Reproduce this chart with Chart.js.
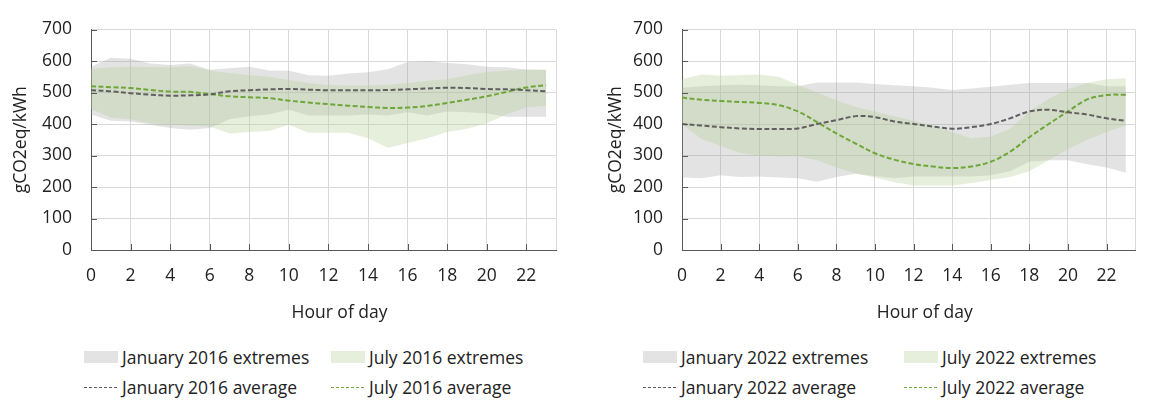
<!DOCTYPE html>
<html>
<head>
<meta charset="utf-8">
<script src="https://cdn.jsdelivr.net/npm/chart.js@4/dist/chart.umd.min.js"></script>
<style>
  html, body { margin: 0; padding: 0; background: #fff; width: 1151px; height: 403px; overflow: hidden; }
  .panel { position: absolute; top: 0; }
  canvas { display: block; }
  .legend { position: absolute; left: 0; top: 0; font-family: 'Open Sans', sans-serif; font-size: 17.5px; color: #222; }
  .item { position: absolute; display: flex; align-items: center; white-space: nowrap; height: 26px; }
  .swatch { width: 34px; height: 12px; margin-right: 4px; flex: none; }
  .mark { width: 34px; height: 1px; margin-right: 4px; flex: none; display: block; }
</style>
</head>
<body>
<div class="panel" style="left:0px;"><canvas id="c2016" width="575" height="340"></canvas></div>
<div class="panel" style="left:591px;"><canvas id="c2022" width="560" height="340"></canvas></div>
<div class="legend" id="leg2016"></div>
<div class="legend" id="leg2022"></div>

<script>
// Hour of day (categories)
const hours = [0, 1, 2, 3, 4, 5, 6, 7, 8, 9, 10, 11, 12, 13, 14, 15, 16, 17, 18, 19, 20, 21, 22, 23];

// Axis ticks
const xTickValues = [0, 2, 4, 6, 8, 10, 12, 14, 16, 18, 20, 22];
const xAxisEnd = 23.5;
const yTickStep = 100;
const yMax = 700;

// 2016 — carbon intensity, gCO2eq/kWh
const jan2016Avg = [507, 504, 498, 493, 490, 491, 494, 504, 507, 510, 511, 509, 507, 507, 507, 508, 510, 513, 515, 514, 511, 510, 507, 504];
const jan2016Max = [582, 610, 607, 592, 587, 592, 572, 577, 582, 570, 569, 555, 553, 560, 564, 574, 597, 600, 594, 590, 582, 580, 573, 572];
const jan2016Min = [430, 410, 408, 398, 387, 382, 387, 415, 425, 430, 445, 427, 427, 427, 430, 427, 437, 427, 440, 437, 433, 423, 423, 423];
const jul2016Avg = [520, 517, 514, 508, 503, 502, 495, 488, 485, 482, 474, 468, 463, 458, 454, 451, 452, 457, 467, 477, 488, 502, 516, 523];
const jul2016Max = [575, 580, 582, 581, 580, 583, 570, 562, 555, 550, 540, 530, 524, 522, 523, 524, 530, 537, 542, 555, 565, 570, 572, 572];
const jul2016Min = [448, 420, 415, 402, 398, 395, 392, 370, 375, 378, 398, 372, 372, 372, 355, 325, 340, 355, 375, 385, 402, 430, 452, 458];

// 2022 — carbon intensity, gCO2eq/kWh
const jan2022Avg = [400, 395, 390, 386, 384, 384, 386, 400, 412, 425, 422, 408, 400, 392, 385, 390, 400, 418, 440, 445, 437, 430, 418, 410];
const jan2022Max = [515, 520, 523, 525, 523, 520, 520, 532, 532, 532, 527, 523, 520, 515, 508, 513, 518, 525, 530, 530, 530, 530, 520, 520];
const jan2022Min = [230, 228, 237, 232, 233, 230, 228, 217, 232, 242, 235, 228, 233, 233, 233, 233, 237, 250, 280, 285, 285, 272, 262, 245];
const jul2022Avg = [484, 477, 473, 470, 467, 460, 440, 406, 370, 338, 307, 287, 273, 265, 260, 265, 280, 312, 358, 400, 440, 478, 492, 493];
const jul2022Max = [542, 557, 553, 555, 557, 550, 525, 500, 475, 455, 440, 425, 410, 395, 375, 355, 360, 385, 440, 480, 510, 530, 542, 545];
const jul2022Min = [400, 352, 330, 308, 300, 297, 298, 285, 262, 243, 230, 215, 205, 205, 205, 213, 222, 232, 250, 285, 320, 350, 375, 395];

// Styling
const TEXT = '#222222';
const GRID = '#d9d9d9';
const AXIS = '#595959';
const JAN_LINE = '#5f5f5f';
const JUL_LINE = '#6ea738';
const JAN_FILL = 'rgba(150,150,150,0.27)';
const JUL_FILL = 'rgba(183,206,156,0.35)';
const JAN_SWATCH = '#e3e3e3';
const JUL_SWATCH = '#e6eedc';
const FONT = { family: "'Open Sans', sans-serif", size: 17.5 };

Chart.defaults.font = { ...Chart.defaults.font, ...FONT };
Chart.defaults.color = TEXT;

const pts = arr => hours.map((h, i) => ({ x: h, y: arr[i] }));

// Short tick marks drawn inward from the axes
const innerTicks = {
  id: 'innerTicks',
  afterDatasetsDraw(chart) {
    const { ctx, chartArea: a, scales: { x, y } } = chart;
    ctx.save();
    ctx.strokeStyle = AXIS;
    ctx.lineWidth = 1;
    ctx.beginPath();
    x.ticks.forEach(t => {
      if (!xTickValues.includes(t.value)) return;
      const px = Math.round(x.getPixelForValue(t.value)) + 0.5;
      ctx.moveTo(px, a.bottom);
      ctx.lineTo(px, a.bottom - 6);
    });
    y.ticks.forEach(t => {
      const py = Math.round(y.getPixelForValue(t.value)) + 0.5;
      ctx.moveTo(a.left, py);
      ctx.lineTo(a.left + 6, py);
    });
    ctx.stroke();
    ctx.restore();
  }
};

// Horizontal axis caption, set slightly right of the plot centre
const xCaption = {
  id: 'xCaption',
  afterDraw(chart, args, opts) {
    const { ctx, chartArea: a } = chart;
    ctx.save();
    ctx.font = `${FONT.size}px ${FONT.family}`;
    ctx.fillStyle = TEXT;
    ctx.textAlign = 'center';
    ctx.textBaseline = 'middle';
    ctx.fillText(opts.text, (a.left + a.right) / 2 + opts.shift, opts.y);
    ctx.restore();
  }
};

function makeChart(id, year, s, layout) {
  const avgLine = (label, data, color) => ({
    label, data: pts(data), borderColor: color, borderWidth: 2, borderDash: [5, 2.5],
    tension: 0.35, pointRadius: 0, fill: false
  });
  const edge = (label, data, fill, bg) => ({
    label, data: pts(data), borderColor: 'rgba(0,0,0,0)', borderWidth: 1,
    tension: 0, pointRadius: 0, fill, backgroundColor: bg
  });
  return new Chart(document.getElementById(id), {
    type: 'line',
    data: {
      datasets: [
        avgLine('January ' + year + ' average', s.janAvg, JAN_LINE),
        avgLine('July ' + year + ' average', s.julAvg, JUL_LINE),
        edge('July ' + year + ' extremes', s.julMax, '+1', JUL_FILL),
        edge('July ' + year + ' extremes', s.julMin, false, 'transparent'),
        edge('January ' + year + ' extremes', s.janMax, '+1', JAN_FILL),
        edge('January ' + year + ' extremes', s.janMin, false, 'transparent')
      ]
    },
    options: {
      responsive: false,
      animation: false,
      events: [],
      layout: { padding: { left: 0, right: layout.padRight, top: 17, bottom: 0 } },
      plugins: {
        legend: { display: false },
        tooltip: { enabled: false },
        xCaption: { text: 'Hour of day', shift: 16, y: 313 }
      },
      scales: {
        x: {
          type: 'linear', min: 0, max: xAxisEnd,
          afterBuildTicks: sc => { sc.ticks = xTickValues.concat([xAxisEnd]).map(v => ({ value: v })); },
          afterFit: sc => { sc.height = 90; },
          ticks: {
            padding: 15.5, autoSkip: false, maxRotation: 0, color: TEXT,
            callback: v => (xTickValues.includes(v) ? String(v) : '')
          },
          grid: { color: GRID, lineWidth: 1, drawTicks: false },
          border: { color: AXIS, width: 1 },
          title: { display: false }
        },
        y: {
          min: 0, max: yMax,
          afterFit: sc => { sc.width = layout.yWidth; },
          ticks: { stepSize: yTickStep, padding: 19, color: TEXT },
          grid: { color: GRID, lineWidth: 1, drawTicks: false },
          border: { color: AXIS, width: 1 },
          title: { display: true, text: 'gCO2eq/kWh', color: TEXT, padding: { top: layout.titlePad, bottom: 0 } }
        }
      }
    },
    plugins: [innerTicks, xCaption]
  });
}

function buildLegend(elId, year, cols, rows) {
  const el = document.getElementById(elId);
  const entries = [
    { text: 'January ' + year + ' extremes', kind: 'box', color: JAN_SWATCH, col: 0, row: 0 },
    { text: 'July ' + year + ' extremes', kind: 'box', color: JUL_SWATCH, col: 1, row: 0 },
    { text: 'January ' + year + ' average', kind: 'line', color: JAN_LINE, col: 0, row: 1 },
    { text: 'July ' + year + ' average', kind: 'line', color: JUL_LINE, col: 1, row: 1 }
  ];
  entries.forEach(e => {
    const item = document.createElement('div');
    item.className = 'item';
    item.style.left = cols[e.col] + 'px';
    item.style.top = (rows[e.row] - 13) + 'px';
    const mk = document.createElement('span');
    if (e.kind === 'box') {
      mk.className = 'swatch';
      mk.style.background = e.color;
    } else {
      mk.className = 'mark';
      mk.style.background = `repeating-linear-gradient(to right, ${e.color} 0px, ${e.color} 3px, transparent 3px, transparent 5px)`;
    }
    item.appendChild(mk);
    const tx = document.createElement('span');
    tx.textContent = e.text;
    item.appendChild(tx);
    el.appendChild(item);
  });
}

makeChart('c2016', 2016, {
  janAvg: jan2016Avg, janMax: jan2016Max, janMin: jan2016Min,
  julAvg: jul2016Avg, julMax: jul2016Max, julMin: jul2016Min
}, { yWidth: 91, padRight: 19, titlePad: 11 });

makeChart('c2022', 2022, {
  janAvg: jan2022Avg, janMax: jan2022Max, janMin: jan2022Min,
  julAvg: jul2022Avg, julMax: jul2022Max, julMin: jul2022Min
}, { yWidth: 91, padRight: 2, titlePad: 14.5 });

buildLegend('leg2016', 2016, [84, 331], [357, 387]);
buildLegend('leg2022', 2022, [643, 904], [357, 387]);
</script>
</body>
</html>
